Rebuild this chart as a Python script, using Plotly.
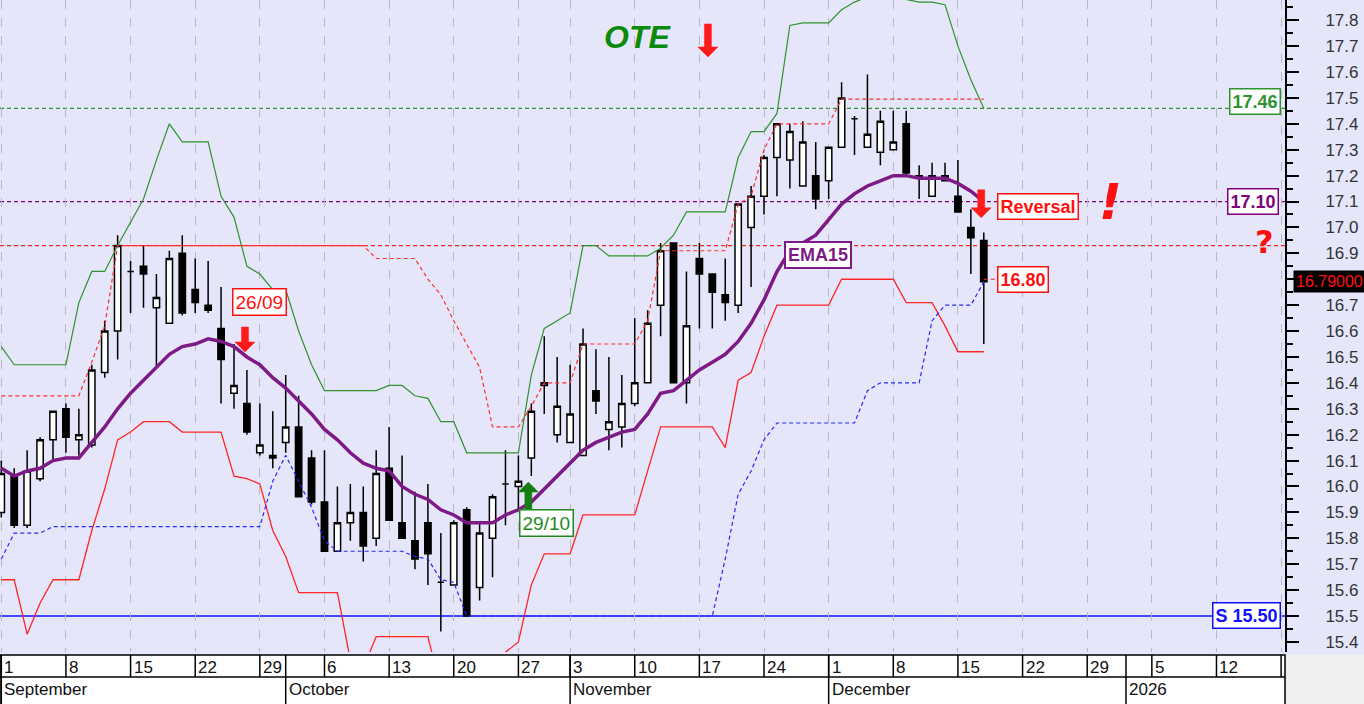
import pandas as pd
import plotly.graph_objects as go

FONT = "Liberation Sans, Arial, sans-serif"
BG = "#E6E6FA"

# ---------------- sessions (Athens exchange, Oct 28 holiday) ----------------
all_days = pd.bdate_range("2025-09-01", "2026-01-23")
market_holidays = pd.to_datetime(["2025-10-28"])
sessions = all_days[~all_days.isin(market_holidays)]

# ---------------- OHLC (Sept 1 -> Dec 17 2025) ----------------
open_ = [15.90, 16.04, 15.85, 16.03, 16.18, 16.30, 16.18, 16.16, 16.44, 16.60,
         16.83, 16.85, 16.69, 16.63, 16.90, 16.76, 16.70, 16.61, 16.36, 16.32,
         16.13, 16.11, 16.17, 16.23, 16.11, 15.94, 15.75, 15.86, 15.90, 15.80,
         16.07, 15.86, 15.79, 15.86, 15.63, 15.62, 15.91, 15.61, 15.80, 16.01,
         16.00, 16.11, 16.39, 16.20, 16.17, 16.12, 16.37, 16.22, 16.23, 16.32,
         16.40, 16.70, 16.94, 16.40, 16.88, 16.82, 16.74, 16.70, 17.00, 17.12,
         17.27, 17.26, 17.16, 17.20, 17.18, 17.31, 17.42, 17.31, 17.29, 17.30,
         17.40, 17.20, 17.12, 17.20, 17.12, 17.00, 16.95]
high = [16.10, 16.07, 16.14, 16.19, 16.29, 16.32, 16.30, 16.47, 16.64, 16.97,
        16.87, 16.93, 16.82, 16.91, 16.97, 16.88, 16.87, 16.77, 16.55, 16.45,
        16.32, 16.29, 16.43, 16.35, 16.14, 16.14, 16.00, 16.01, 16.00, 16.14,
        16.23, 16.12, 15.98, 16.01, 15.82, 15.87, 15.92, 15.86, 15.97, 16.14,
        16.12, 16.32, 16.58, 16.50, 16.47, 16.61, 16.53, 16.50, 16.43, 16.65,
        16.68, 16.94, 16.94, 16.83, 16.94, 16.82, 16.88, 17.09, 17.16, 17.28,
        17.40, 17.40, 17.41, 17.33, 17.31, 17.56, 17.43, 17.59, 17.45, 17.45,
        17.45, 17.24, 17.25, 17.25, 17.26, 17.07, 16.98]
low = [15.88, 15.84, 15.84, 16.02, 16.10, 16.13, 16.12, 16.15, 16.42, 16.49,
       16.67, 16.69, 16.46, 16.63, 16.66, 16.67, 16.67, 16.32, 16.30, 16.20,
       16.12, 16.07, 16.13, 15.96, 15.93, 15.75, 15.75, 15.79, 15.71, 15.77,
       15.87, 15.80, 15.68, 15.62, 15.44, 15.62, 15.50, 15.56, 15.65, 15.85,
       15.91, 16.04, 16.28, 16.17, 16.17, 16.12, 16.28, 16.14, 16.15, 16.31,
       16.40, 16.58, 16.40, 16.32, 16.61, 16.61, 16.64, 16.67, 16.77, 17.05,
       17.12, 17.15, 17.16, 17.07, 17.11, 17.31, 17.28, 17.31, 17.24, 17.30,
       17.20, 17.11, 17.12, 17.18, 17.06, 16.82, 16.55]
close = [16.05, 15.85, 16.06, 16.18, 16.29, 16.19, 16.20, 16.45, 16.60, 16.93,
         16.83, 16.82, 16.73, 16.88, 16.67, 16.71, 16.68, 16.49, 16.39, 16.21,
         16.16, 16.12, 16.23, 15.96, 15.94, 15.75, 15.86, 15.90, 15.77, 16.05,
         15.87, 15.80, 15.72, 15.74, 15.63, 15.86, 15.50, 15.82, 15.96, 16.01,
         16.02, 16.29, 16.40, 16.31, 16.28, 16.55, 16.33, 16.25, 16.32, 16.40,
         16.63, 16.91, 16.40, 16.62, 16.82, 16.75, 16.71, 17.09, 17.12, 17.27,
         17.40, 17.37, 17.33, 17.11, 17.31, 17.50, 17.42, 17.36, 17.41, 17.33,
         17.21, 17.19, 17.20, 17.18, 17.06, 16.96, 16.79]

# ---------------- indicators ----------------
ema15 = [16.07, 16.04, 16.06, 16.07, 16.10, 16.11, 16.11, 16.17, 16.23, 16.30,
         16.36, 16.41, 16.46, 16.51, 16.54, 16.55, 16.57, 16.56, 16.54, 16.50,
         16.47, 16.42, 16.38, 16.33, 16.28, 16.22, 16.18, 16.13, 16.09, 16.07,
         16.06, 16.00, 15.97, 15.95, 15.91, 15.89, 15.86, 15.86, 15.86, 15.89,
         15.91, 15.94, 15.99, 16.04, 16.09, 16.14, 16.17, 16.19, 16.21, 16.22,
         16.28, 16.36, 16.37, 16.41, 16.45, 16.48, 16.51, 16.56, 16.63, 16.72,
         16.83, 16.91, 16.94, 16.97, 17.03, 17.09, 17.13, 17.16, 17.18, 17.20,
         17.20, 17.19, 17.19, 17.19, 17.17, 17.14, 17.10]
upper_band = [16.54, 16.47, 16.47, 16.47, 16.47, 16.47, 16.71, 16.83, 16.83, 16.93,
              17.02, 17.11, 17.26, 17.40, 17.33, 17.33, 17.33, 17.12, 17.04, 16.85,
              16.82, 16.76, 16.76, 16.60, 16.47, 16.37, 16.37, 16.37, 16.37, 16.37,
              16.39, 16.39, 16.35, 16.34, 16.25, 16.25, 16.13, 16.13, 16.13, 16.13,
              16.13, 16.43, 16.61, 16.64, 16.67, 16.93, 16.93, 16.89, 16.89, 16.89,
              16.89, 16.92, 16.97, 17.06, 17.06, 17.06, 17.06, 17.27, 17.37, 17.37,
              17.44, 17.78, 17.79, 17.79, 17.79, 17.84, 17.87, 17.89, 17.94, 17.92,
              17.88, 17.87, 17.87, 17.86, 17.70, 17.57, 17.46]
lower_band = [15.64, 15.64, 15.43, 15.55, 15.64, 15.64, 15.64, 15.83, 15.99, 16.18,
              16.21, 16.25, 16.25, 16.25, 16.21, 16.21, 16.21, 16.21, 16.04, 16.03,
              16.01, 15.83, 15.73, 15.59, 15.59, 15.59, 15.59, 15.33, 15.30, 15.42,
              15.42, 15.42, 15.42, 15.42, 15.22, 15.20, 15.20, 15.22, 15.28, 15.36,
              15.40, 15.62, 15.74, 15.74, 15.74, 15.89, 15.89, 15.89, 15.89, 15.89,
              16.06, 16.23, 16.23, 16.23, 16.23, 16.23, 16.15, 16.41, 16.44, 16.58,
              16.70, 16.70, 16.70, 16.70, 16.70, 16.80, 16.80, 16.80, 16.80, 16.80,
              16.71, 16.71, 16.71, 16.62, 16.52, 16.52, 16.52]
upper_stop = [16.35, 16.35, 16.35, 16.35, 16.35, 16.35, 16.35, 16.48, 16.62, 16.93,
              16.93, 16.93, 16.93, 16.93, 16.93, 16.93, 16.93, 16.93, 16.93, 16.93,
              16.93, 16.93, 16.93, 16.93, 16.93, 16.93, 16.93, 16.93, 16.93, 16.88,
              16.88, 16.88, 16.88, 16.80, 16.74, 16.64, 16.55, 16.46, 16.23, 16.23,
              16.23, 16.31, 16.40, 16.40, 16.40, 16.55, 16.55, 16.55, 16.55, 16.55,
              16.64, 16.91, 16.91, 16.91, 16.91, 16.91, 16.91, 17.09, 17.12, 17.30,
              17.40, 17.40, 17.40, 17.40, 17.40, 17.495, 17.495, 17.495, 17.495, 17.495,
              17.495, 17.495, 17.495, 17.495, 17.495, 17.495, 17.495]
lower_stop = [15.72, 15.82, 15.82, 15.82, 15.845, 15.845, 15.845, 15.845, 15.845, 15.845,
              15.845, 15.845, 15.845, 15.845, 15.845, 15.845, 15.845, 15.845, 15.845, 15.845,
              15.845, 16.02, 16.12, 16.02, 15.92, 15.79, 15.75, 15.75, 15.75, 15.75,
              15.75, 15.75, 15.73, 15.72, 15.64, 15.63, 15.50, 15.50, 15.50, 15.50,
              15.50, 15.50, 15.50, 15.50, 15.50, 15.50, 15.50, 15.50, 15.50, 15.50,
              15.50, 15.50, 15.50, 15.50, 15.50, 15.50, 15.72, 15.97, 16.06, 16.18,
              16.245, 16.245, 16.245, 16.245, 16.245, 16.245, 16.245, 16.37, 16.40, 16.40,
              16.40, 16.40, 16.64, 16.70, 16.70, 16.70, 16.79]

level_target = 17.46
level_reversal = 17.10
level_prev_high = 16.93
level_stop = 16.80
level_support = 15.50
last_price = 16.79

price_ticks = [round(15.4 + 0.1 * k, 1) for k in range(26)]
price_ticktext = ["" if abs(v - round(last_price, 1)) < 1e-9 else f"{v:.1f}"
                  for v in price_ticks]

n = len(close)
xi = list(range(n))
mondays = [i for i, d in enumerate(sessions) if d.weekday() == 0]
month_starts = [i for i, d in enumerate(sessions)
                if i == 0 or d.month != sessions[i - 1].month]
X_MAX = 99.3

fig = go.Figure()

line_specs = [
    (upper_band, dict(color="#2e922e", width=1.2)),
    (lower_band, dict(color="#ff2626", width=1.3)),
    (upper_stop, dict(color="#ff3030", width=1.2, dash="4px,3px")),
    (lower_stop, dict(color="#2828ff", width=1.2, dash="4px,3px")),
]
for ys, ln in line_specs:
    fig.add_trace(go.Scatter(x=xi, y=ys, mode="lines", line=ln,
                             hoverinfo="skip", showlegend=False))

fig.add_trace(go.Candlestick(
    x=xi, open=open_, high=high, low=low, close=close,
    increasing=dict(line=dict(color="black", width=1.5), fillcolor="white"),
    decreasing=dict(line=dict(color="black", width=1.5), fillcolor="black"),
    whiskerwidth=0, showlegend=False, hoverinfo="skip"))

fig.add_trace(go.Scatter(x=xi, y=ema15, mode="lines",
                         line=dict(color="#7e1a86", width=3.5),
                         hoverinfo="skip", showlegend=False))

shapes = []
for lvl, col in [(level_target, "#2e922e"), (level_reversal, "#800080"),
                 (level_prev_high, "#ff2020")]:
    shapes.append(dict(type="line", xref="paper", x0=0, x1=1, yref="y", y0=lvl, y1=lvl,
                       line=dict(color=col, width=1.2, dash="4px,3px"), layer="below"))
shapes.append(dict(type="line", xref="paper", x0=0, x1=1, yref="y",
                   y0=level_support, y1=level_support,
                   line=dict(color="#1010ff", width=1.3), layer="below"))
# connector to the 16.80 stop label
shapes.append(dict(type="line", xref="x", x0=n - 1, x1=n, yref="y",
                   y0=level_stop, y1=level_stop,
                   line=dict(color="#ff2020", width=1.2, dash="4px,3px")))


def block_arrow(x, y, length, color, down=True):
    s = 1 if down else -1
    hh, hw, sw = 10, 10, 3.5
    path = (f"M0,0 L{-hw},{s*hh} L{-sw},{s*hh} L{-sw},{s*length} "
            f"L{sw},{s*length} L{sw},{s*hh} L{hw},{s*hh} Z")
    return dict(type="path", xref="x", yref="y", xsizemode="pixel", ysizemode="pixel",
                xanchor=x, yanchor=y, path=path, fillcolor=color,
                line=dict(color=color, width=0.5), layer="above")


shapes += [
    block_arrow(54.66, 17.658, 33, "#ff1a1a"),
    block_arrow(18.85, 16.519, 25, "#ff1a1a"),
    block_arrow(75.8, 17.037, 28, "#ff1a1a"),
    block_arrow(40.77, 16.017, 27, "#137f13", down=False),
]

# date scale (two rows)
shapes.append(dict(type="rect", xref="paper", x0=0, x1=1, yref="paper", ysizemode="pixel",
                   yanchor=0, y0=-3, y1=-60, fillcolor="white",
                   line=dict(color="black", width=1.5), layer="above"))
shapes.append(dict(type="rect", xref="paper", x0=1.0015, x1=1.1, yref="paper",
                   ysizemode="pixel", yanchor=0, y0=-3, y1=-60, fillcolor="#f0f0f0",
                   line=dict(width=0), layer="above"))
shapes.append(dict(type="line", xref="paper", x0=0, x1=1, yref="paper", ysizemode="pixel",
                   yanchor=0, y0=-25, y1=-25, line=dict(color="black", width=1.5),
                   layer="above"))
for m in mondays:
    shapes.append(dict(type="line", xref="x", x0=m, x1=m, yref="paper", ysizemode="pixel",
                       yanchor=0, y0=-3, y1=-25, line=dict(color="black", width=1.5),
                       layer="above"))
for s in month_starts:
    shapes.append(dict(type="line", xref="x", x0=s, x1=s, yref="paper", ysizemode="pixel",
                       yanchor=0, y0=-3, y1=-60, line=dict(color="black", width=1.5),
                       layer="above"))

ann = []
for m in mondays:
    if m > X_MAX - 1:
        continue
    ann.append(dict(xref="x", x=m, yref="paper", y=0, yshift=-4, xshift=1,
                    xanchor="left", yanchor="top", showarrow=False,
                    text=str(sessions[m].day), font=dict(family=FONT, size=17, color="#111")))
for s in month_starts:
    d = sessions[s]
    label = str(d.year) if d.month == 1 else d.strftime("%B")
    ann.append(dict(xref="x", x=s, yref="paper", y=0, yshift=-26, xshift=1,
                    xanchor="left", yanchor="top", showarrow=False,
                    text=label, font=dict(family=FONT, size=17, color="#111")))


def box(text, x, y, color, xref="x", xanchor="center", xshift=0, yshift=0, size=18, bw=1.5):
    return dict(xref=xref, x=x, yref="y", y=y, xanchor=xanchor, yanchor="middle",
                xshift=xshift, yshift=yshift, showarrow=False, text=text,
                font=dict(family=FONT, size=size, color=color), bgcolor="white",
                bordercolor=color, borderwidth=bw, borderpad=2)


ann += [
    box("26/09", 20.0, 16.712, "#ff1010", size=19),
    box("29/10", 42.2, 15.859, "#1e8a1e", size=19),
    box("<b>EMA15</b>", 63.2, 16.894, "#7e1a86", bw=2),
    box("<b>Reversal</b>", n + 0.05, level_reversal - 0.02, "#ff1010", xanchor="left"),
    box("<b>16.80</b>", n, level_stop, "#ff1010", xanchor="left"),
    box("<b>17.46</b>", 1, level_target, "#2e922e", xref="paper", xanchor="right",
        xshift=-4, yshift=7),
    box("<b>17.10</b>", 1, level_reversal, "#800080", xref="paper", xanchor="right",
        xshift=-6),
    box("<b>S 15.50</b>", 1, level_support, "#1010ff", xref="paper", xanchor="right",
        xshift=-4),
    dict(xref="paper", x=1, yref="y", y=last_price, xanchor="left", yanchor="middle",
         xshift=8, showarrow=False, text="16.79000", bgcolor="black",
         font=dict(family=FONT, size=16, color="#ff1010"), borderpad=2),
    dict(xref="x", x=49.2, yref="y", y=17.735, showarrow=False,
         text="<b><i>OTE</i></b>", font=dict(family=FONT, size=32, color="#0b8a0b")),
    dict(xref="x", x=85.8, yref="y", y=17.10, showarrow=False,
         text="<b><i>!</i></b>", font=dict(family="DejaVu Sans", size=50, color="#ff1010")),
    dict(xref="x", x=97.7, yref="y", y=16.944, showarrow=False,
         text="<b>?</b>", font=dict(family="DejaVu Sans", size=32, color="#ff1010")),
]

fig.update_layout(
    width=1364, height=704,
    margin=dict(l=0, r=79, t=0, b=52, pad=0),
    plot_bgcolor=BG, paper_bgcolor=BG,
    showlegend=False,
    shapes=shapes, annotations=ann,
    xaxis=dict(range=[-0.1, X_MAX], tickvals=mondays, showticklabels=False, ticks="",
               showgrid=True, gridcolor="#b9b9c6", griddash="dash", gridwidth=1,
               zeroline=False, showline=False, rangeslider=dict(visible=False),
               fixedrange=True),
    yaxis=dict(side="right", range=[15.361, 17.878], tickvals=price_ticks,
               ticktext=price_ticktext, ticks="outside", ticklen=12, tickwidth=1.5,
               tickcolor="black",
               minor=dict(dtick=0.05, tick0=15.4, ticks="outside", ticklen=6,
                          tickwidth=1.5, tickcolor="black", showgrid=False),
               showline=True, linecolor="black", linewidth=2, showgrid=False,
               zeroline=False, ticklabelstandoff=23, fixedrange=True,
               tickfont=dict(family=FONT, size=17, color="#333")),
)

fig.write_html("out.html", config={"displayModeBar": False},
               post_script="document.body.style.margin='0px';document.body.style.overflow='hidden';")
